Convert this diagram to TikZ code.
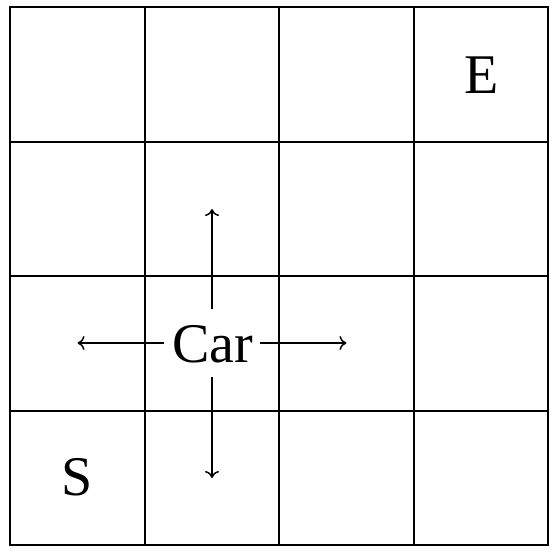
\documentclass[tikz,border=0pt]{standalone}
\usepackage{fontspec}
\setmainfont{Liberation Serif}
\usetikzlibrary{arrows.meta}
\begin{document}
\begin{tikzpicture}[x=1pt,y=-1pt,
  gridline/.style={line width=2pt,line cap=rect},
  lbl/.style={font=\fontsize{56}{60}\selectfont,inner sep=0pt,anchor=base},
  move/.style={line width=1.5pt,-{To[length=7pt,width=14pt]}}]
\useasboundingbox (0,0) rectangle (558,552);
% grid
\foreach \v in {10,145,279,414,548}{
  \draw[gridline] (\v,7) -- (\v,545);
}
\foreach \v in {7,142,276,411,545}{
  \draw[gridline] (10,\v) -- (548,\v);
}
% cell centres
\coordinate (left) at (77.5,343);
\coordinate (right) at (346.5,343);
\coordinate (up) at (212,209);
\coordinate (down) at (212,478);
% labels
\node[lbl] (E) at (481.5,93) {E};
\node[lbl] (S) at (77,495) {S};
\node[lbl] (cartext) at (212.5,362.5) {Car};
\node[draw=none,minimum width=95pt,minimum height=67pt,inner sep=0pt] (car) at (212,343) {};
% arrows
\draw[move] (car.west) -- (left);
\draw[move] (car.east) -- (right);
\draw[move] (car.north) -- (up);
\draw[move] (car.south) -- (down);
\end{tikzpicture}
\end{document}
